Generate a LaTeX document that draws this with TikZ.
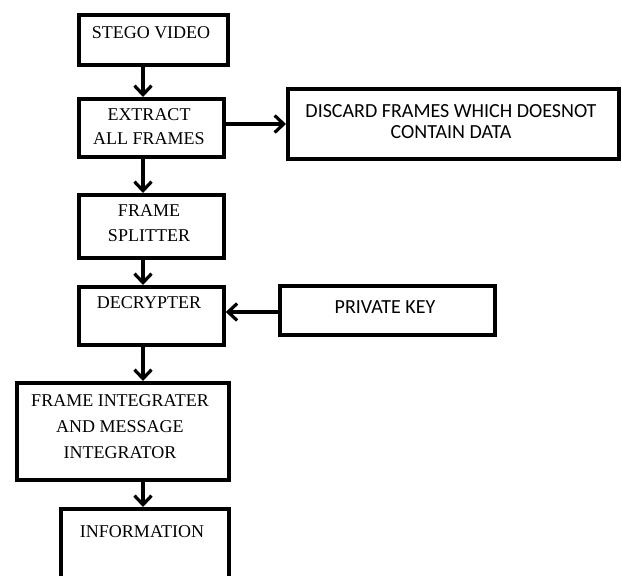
\documentclass[tikz,border=0pt]{standalone}
\usepackage{fontspec}
\setmainfont{Liberation Serif}
\newfontfamily\boxsans{Carlito}
\usetikzlibrary{arrows.meta}

\tikzset{
  box/.style={draw=black, line width=3.8pt, rectangle, anchor=north west, inner sep=0pt},
  serifbox/.style={font=\fontsize{18}{25}\selectfont, align=center, inner sep=0pt},
  sansbox/.style={font=\boxsans\fontsize{20}{21}\selectfont, align=center, inner sep=0pt},
  flow/.style={line width=3.2pt, -{Straight Barb[length=9pt, width=17pt, line width=3.2pt]}}
}

\begin{document}
\begin{tikzpicture}[x=1pt, y=-1pt]
  \useasboundingbox (0,0) rectangle (622,576);
  \clip (0,0) rectangle (622,576);

  % boxes of the main column
  \node[box, minimum width=149pt, minimum height=50pt] (sv) at (77,13) {};
  \node[box, minimum width=145pt, minimum height=58pt] (ex) at (77,97) {};
  \node[box, minimum width=145pt, minimum height=63pt] (fs) at (77,193) {};
  \node[box, minimum width=145pt, minimum height=58pt] (dec) at (77,285) {};
  \node[box, minimum width=212pt, minimum height=97pt] (fi) at (15,381) {};
  \node[box, minimum width=168pt, minimum height=90pt] (inf) at (59,507) {};

  % side boxes
  \node[box, minimum width=331pt, minimum height=70pt] (dc) at (286,87) {};
  \node[box, minimum width=215pt, minimum height=49pt] (pk) at (278,284) {};

  % labels
  \node[serifbox] (svt) at (151,33) {STEGO VIDEO};
  \node[serifbox, font=\fontsize{18}{24}\selectfont] (ext) at (149,127) {EXTRACT\\ALL FRAMES};
  \node[serifbox] (fst) at (149,223.5) {FRAME\\SPLITTER};
  \node[serifbox] (dect) at (149,303) {DECRYPTER};
  \node[serifbox, font=\fontsize{18}{26}\selectfont] (fit) at (120,427) {FRAME INTEGRATER\\AND MESSAGE\\INTEGRATOR};
  \node[serifbox] (inft) at (142,532) {INFORMATION};
  \node[sansbox] (dct) at (451,122) {DISCARD FRAMES WHICH DOESNOT\\CONTAIN DATA};
  \node[sansbox] (pkt) at (385,307) {PRIVATE KEY};

  % connectors
  \coordinate (spine) at (143,0);
  \coordinate (side1) at (0,124);
  \coordinate (side2) at (0,312);
  \draw[flow] (sv.south -| spine) -- (ex.north -| spine);
  \draw[flow] (ex.south -| spine) -- (fs.north -| spine);
  \draw[flow] (fs.south -| spine) -- (dec.north -| spine);
  \draw[flow] (dec.south -| spine) -- (fi.north -| spine);
  \draw[flow] (fi.south -| spine) -- (inf.north -| spine);
  \draw[flow] (ex.east |- side1) -- (dc.west |- side1);
  \draw[flow] (pk.west |- side2) -- (dec.east |- side2);
\end{tikzpicture}
\end{document}
